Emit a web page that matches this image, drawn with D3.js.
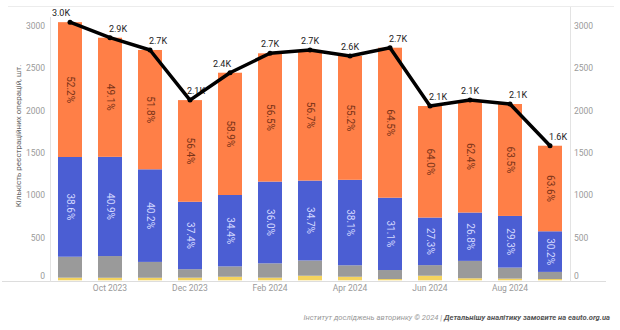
<!DOCTYPE html>
<html>
<head>
<meta charset="utf-8">
<script src="https://cdn.jsdelivr.net/npm/d3@7"></script>
<style>
  body { margin: 0; background: #fff; }
  svg { display: block; font-family: Roboto, "Noto Sans", sans-serif; }
</style>
</head>
<body>
<svg id="chart" width="620" height="330"></svg>
<script>
// months on the x axis
const months = ["Sep 2023", "Oct 2023", "Nov 2023", "Dec 2023", "Jan 2024", "Feb 2024", "Mar 2024",
  "Apr 2024", "May 2024", "Jun 2024", "Jul 2024", "Aug 2024", "Sep 2024"];
const tickMonths = ["Oct 2023", "Dec 2023", "Feb 2024", "Apr 2024", "Jun 2024", "Aug 2024"];

// stacked series, bottom to top (counts)
const yellowVals = [31, 30, 30, 31, 42, 31, 54, 42, 15, 54, 24, 20, 15];
const grayVals   = [247, 256, 187, 100, 122, 169, 180, 135, 106, 125, 205, 130, 84];
const blueVals   = [1176, 1170, 1092, 795, 842, 964, 942, 1008, 853, 561, 570, 609, 479];
const orangeVals = [1590, 1405, 1407, 1199, 1442, 1513, 1540, 1460, 1769, 1315, 1326, 1320, 1009];

const yTicks = [0, 500, 1000, 1500, 2000, 2500, 3000];

const series = [
  { key: "yellow", values: yellowVals, color: "#f4d35e" },
  { key: "gray",   values: grayVals,   color: "#9a9a9a" },
  { key: "blue",   values: blueVals,   color: "#4b5ed3", label: "#d3d8ff" },
  { key: "orange", values: orangeVals, color: "#ff7f47", label: "#7a3318" }
];

const rows = months.map((m, i) => {
  const r = { month: m };
  series.forEach(s => r[s.key] = s.values[i]);
  r.total = d3.sum(series, s => s.values[i]);
  return r;
});

const svg = d3.select("#chart");

const x = d3.scaleBand()
  .domain(months)
  .range([50, 570])
  .paddingInner(0.4)
  .paddingOuter(0.2);

const y = d3.scaleLinear()
  .domain([0, 3000])
  .range([280.3, 25.9]);

// frame lines
svg.append("line").attr("x1", 8).attr("x2", 614).attr("y1", 6.5).attr("y2", 6.5)
  .attr("stroke", "#ececec");
svg.append("line").attr("x1", 2).attr("x2", 606).attr("y1", 281.5).attr("y2", 281.5)
  .attr("stroke", "#dddddd");
svg.append("line").attr("x1", 50.5).attr("x2", 50.5).attr("y1", 17).attr("y2", 281.5)
  .attr("stroke", "#e3e3e3");
svg.append("line").attr("x1", 570.5).attr("x2", 570.5).attr("y1", 7).attr("y2", 281.5)
  .attr("stroke", "#e3e3e3");

// axis tick labels
const tickStyle = sel => sel.attr("font-size", 8.5).attr("fill", "#9a9a9a");
svg.append("g").selectAll("text").data(yTicks).join("text")
  .attr("x", 45).attr("text-anchor", "end")
  .attr("y", d => y(d) - (d === 0 ? 4.5 : 0)).attr("dy", "0.35em")
  .text(d => d).call(tickStyle);
svg.append("g").selectAll("text").data(yTicks).join("text")
  .attr("x", 574).attr("text-anchor", "start")
  .attr("y", d => y(d) - (d === 0 ? 4.5 : 0)).attr("dy", "0.35em")
  .text(d => d).call(tickStyle);
svg.append("g").selectAll("text").data(tickMonths).join("text")
  .attr("x", d => x(d) + x.bandwidth() / 2).attr("y", 288.5).attr("dy", "0.35em")
  .attr("text-anchor", "middle")
  .text(d => d).call(tickStyle);

// y axis title
svg.append("text")
  .attr("transform", "translate(18,136) rotate(-90)")
  .attr("text-anchor", "middle").attr("dy", "0.35em")
  .attr("font-size", 8).attr("fill", "#666")
  .text("Кількість реєстраційних операцій, шт.");

// stacked bars
const stack = d3.stack().keys(series.map(s => s.key))(rows);
const colorOf = new Map(series.map(s => [s.key, s]));

const layers = svg.append("g").selectAll("g").data(stack).join("g")
  .attr("fill", d => colorOf.get(d.key).color);

layers.selectAll("rect").data(d => d).join("rect")
  .attr("x", d => x(d.data.month))
  .attr("width", x.bandwidth())
  .attr("y", d => y(d[1]))
  .attr("height", d => y(d[0]) - y(d[1]));

// percent labels for blue and orange segments
stack.filter(l => colorOf.get(l.key).label).forEach(l => {
  svg.append("g").selectAll("text").data(l).join("text")
    .attr("transform", d => `translate(${x(d.data.month) + x.bandwidth() / 2},${(y(d[0]) + y(d[1])) / 2}) rotate(90)`)
    .attr("text-anchor", "middle").attr("dy", "0.35em")
    .attr("font-size", 10).attr("fill", colorOf.get(l.key).label)
    .text(d => d3.format(".1f")((d[1] - d[0]) / d.data.total * 100) + "%");
});

// total labels
const labelShift = [-9, 8, 8, 6, -8, 0, 0, 0, 8, 8, 0, 8, 8];
svg.append("g").selectAll("text").data(rows).join("text")
  .attr("x", (d, i) => x(d.month) + x.bandwidth() / 2 + labelShift[i])
  .attr("y", d => y(d.total) - 9).attr("dy", "0.35em")
  .attr("text-anchor", "middle")
  .attr("font-size", 9).attr("fill", "#222")
  .text(d => (Math.round(d.total / 100) / 10).toFixed(1) + "K");

// total line
const line = d3.line()
  .x(d => x(d.month) + x.bandwidth() / 2)
  .y(d => y(d.total));
svg.append("path").datum(rows)
  .attr("d", line)
  .attr("fill", "none").attr("stroke", "#000")
  .attr("stroke-width", 3.5).attr("stroke-linejoin", "round");
svg.append("g").selectAll("circle").data(rows).join("circle")
  .attr("cx", d => x(d.month) + x.bandwidth() / 2)
  .attr("cy", d => y(d.total))
  .attr("r", 2.5).attr("fill", "#000");

// footer
const foot = svg.append("text")
  .attr("x", 610).attr("y", 317).attr("dy", "0.35em")
  .attr("text-anchor", "end")
  .attr("font-size", 7.6).attr("font-style", "italic").attr("fill", "#999");
foot.append("tspan").text("Інститут досліджень авторинку © 2024 | ");
foot.append("tspan").attr("font-weight", "bold").attr("fill", "#555")
  .text("Детальнішу аналітику замовите на eauto.org.ua");
</script>
</body>
</html>
